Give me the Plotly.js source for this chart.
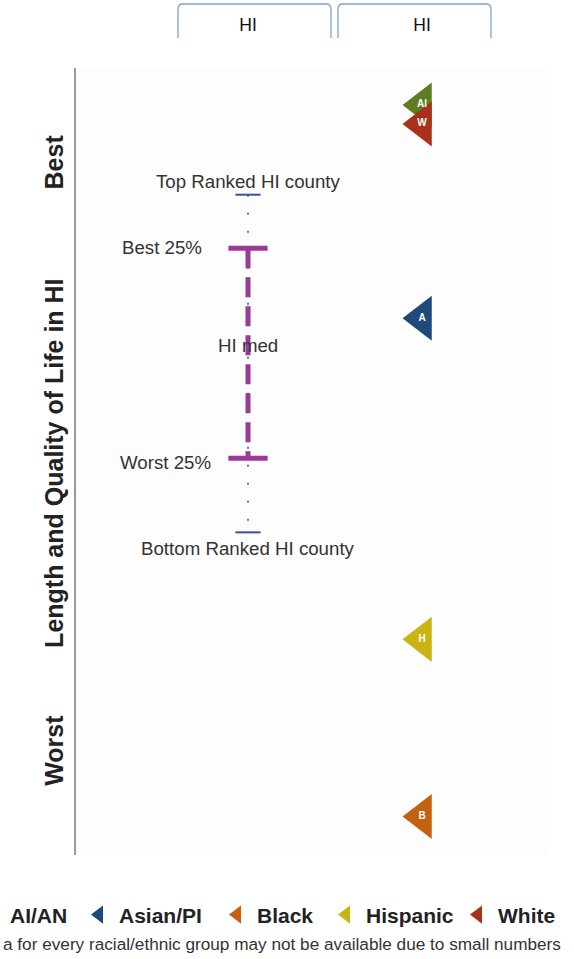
<!DOCTYPE html>
<html>
<head>
<meta charset="utf-8">
<script src="https://cdn.plot.ly/plotly-3.0.1.min.js"></script>
<style>
  html, body { margin: 0; padding: 0; background: #ffffff; }
  #chart { width: 574px; height: 959px; }
</style>
</head>
<body>
<div id="chart"></div>
<script>
// ---- data ----
const columnLabels = ['HI', 'HI'];
const columnPositions = [0, 1];

const groups = ['AI/AN', 'Asian/PI', 'Black', 'Hispanic', 'White'];
const groupLetters = ['AI', 'A', 'B', 'H', 'W'];
const groupScores = [95.3, 68.2, 4.9, 27.4, 92.9];
const groupColors = ['#5e7d23', '#1d4a78', '#c4610f', '#c9b413', '#a9301b'];

const countyLabels = ['Top Ranked HI county', 'Best 25%', 'HI med', 'Worst 25%', 'Bottom Ranked HI county'];
const countyScores = [83.9, 77.1, 64.8, 50.4, 41.0];

const axisTitle = 'Length and Quality of Life in HI';
const bestLabel = 'Best';
const worstLabel = 'Worst';
const footnote = 'a for every racial/ethnic group may not be available due to small numbers';

// ---- traces ----
const FONT = 'Liberation Sans, Arial, sans-serif';
const traces = [];

// whisker (top ranked to bottom ranked county), dotted
traces.push({
  type: 'scatter', mode: 'lines', showlegend: false, hoverinfo: 'skip',
  x: [columnPositions[0], columnPositions[0]],
  y: [countyScores[0], countyScores[4]],
  line: { color: '#4a7fa8', width: 2, dash: '2px,16px' }
});
traces.push({
  type: 'scatter', mode: 'markers', showlegend: false, hoverinfo: 'skip',
  x: [columnPositions[0], columnPositions[0]],
  y: [countyScores[0], countyScores[4]],
  marker: { symbol: 'line-ew', size: 18, line: { color: '#3c4ea0', width: 2 } }
});
// interquartile range, dashed purple
traces.push({
  type: 'scatter', mode: 'lines', showlegend: false, hoverinfo: 'skip',
  x: [columnPositions[0], columnPositions[0]],
  y: [countyScores[1], countyScores[3]],
  line: { color: '#9a3a97', width: 5, dash: '20px,9px' }
});
traces.push({
  type: 'scatter', mode: 'markers', showlegend: false, hoverinfo: 'skip',
  x: [columnPositions[0], columnPositions[0]],
  y: [countyScores[1], countyScores[3]],
  marker: { symbol: 'line-ew', size: 28, line: { color: '#9a3a97', width: 5 } }
});

// racial/ethnic groups (each with its own legend box so the row never wraps)
const legendIds = ['legend', 'legend2', 'legend3', 'legend4', 'legend5'];
groups.forEach((g, i) => {
  traces.push({
    type: 'scatter', mode: 'markers', name: g, legend: legendIds[i],
    x: [columnPositions[1]], y: [groupScores[i]],
    marker: { symbol: 'triangle-left', size: 39, color: groupColors[i], line: { width: 0 } }
  });
});
traces.push({
  type: 'scatter', mode: 'text', showlegend: false, hoverinfo: 'skip',
  x: groups.map(() => columnPositions[1]), y: groupScores,
  text: groupLetters, textposition: 'middle center',
  textfont: { family: FONT, size: 10, color: '#ffffff', weight: 'bold' }
});

// ---- annotations ----
const annFont = { family: FONT, size: 18.7, color: '#333333' };
const sideFont = { family: FONT, size: 25, color: '#222222', weight: 'bold' };
const annotations = [
  { x: 0, y: countyScores[0], text: countyLabels[0], showarrow: false, xanchor: 'center', yanchor: 'middle', yshift: 13, font: annFont },
  { x: 0, y: countyScores[1], text: countyLabels[1], showarrow: false, xanchor: 'right', yanchor: 'middle', xshift: -44, yshift: 1, font: annFont },
  { x: 0, y: countyScores[2], text: countyLabels[2], showarrow: false, xanchor: 'center', yanchor: 'middle', font: annFont },
  { x: 0, y: countyScores[3], text: countyLabels[3], showarrow: false, xanchor: 'right', yanchor: 'middle', xshift: -35, yshift: -4, font: annFont },
  { x: 0, y: countyScores[4], text: countyLabels[4], showarrow: false, xanchor: 'center', yanchor: 'middle', yshift: -16, font: annFont },
  { xref: 'paper', yref: 'paper', x: -0.047, y: 0.498, text: axisTitle, textangle: -90, showarrow: false,
    xanchor: 'center', yanchor: 'middle', font: sideFont },
  { xref: 'paper', yref: 'paper', x: -0.047, y: 0.881, text: bestLabel, textangle: -90, showarrow: false,
    xanchor: 'center', yanchor: 'middle', font: sideFont },
  { xref: 'paper', yref: 'paper', x: -0.047, y: 0.1334, text: worstLabel, textangle: -90, showarrow: false,
    xanchor: 'center', yanchor: 'middle', font: sideFont },
  { xref: 'paper', yref: 'paper', x: -0.1589, y: -0.1125, text: footnote, showarrow: false,
    xanchor: 'left', yanchor: 'middle', font: { family: FONT, size: 17.2, color: '#333333' } }
];

// ---- column header tabs ----
function tab(x0, x1) {
  const yb = 1.0381, yt = 1.0813, dx = 0.0106, dy = 0.0064;
  return {
    type: 'path', xref: 'paper', yref: 'paper',
    path: `M${x0},${yb} L${x0},${yt - dy} Q${x0},${yt} ${x0 + dx},${yt} L${x1 - dx},${yt} Q${x1},${yt} ${x1},${yt - dy} L${x1},${yb}`,
    line: { color: '#7ba3d6', width: 1.3 }
  };
}

const legendBase = {
  orientation: 'h', xanchor: 'left', y: -0.0762, yanchor: 'middle',
  font: { family: FONT, size: 21, color: '#222222', weight: 'bold' },
  bgcolor: 'rgba(0,0,0,0)'
};
const legendX = [-0.2246, 0.0063, 0.2987, 0.5296, 0.8093];

const layout = {
  width: 574, height: 959,
  margin: { l: 76, r: 26, t: 68, b: 104, autoexpand: false },
  paper_bgcolor: '#ffffff', plot_bgcolor: '#fdfdfd',
  showlegend: true,
  xaxis: {
    range: [-0.9885, 1.724], side: 'top',
    tickvals: columnPositions, ticktext: columnLabels,
    ticks: '', ticklabelstandoff: 33,
    tickfont: { family: FONT, size: 17.5, color: '#111111' },
    showgrid: false, zeroline: false, showline: false, fixedrange: true
  },
  yaxis: {
    range: [0, 100], showticklabels: false, ticks: '',
    showgrid: false, zeroline: false,
    showline: true, linecolor: '#999999', linewidth: 2.5, fixedrange: true
  },
  shapes: [tab(0.2161, 0.5403), tab(0.5551, 0.8792)],
  annotations: annotations
};
legendIds.forEach((id, i) => { layout[id] = Object.assign({}, legendBase, { x: legendX[i] }); });

Plotly.newPlot('chart', traces, layout, { displayModeBar: false, staticPlot: true });
</script>
</body>
</html>
